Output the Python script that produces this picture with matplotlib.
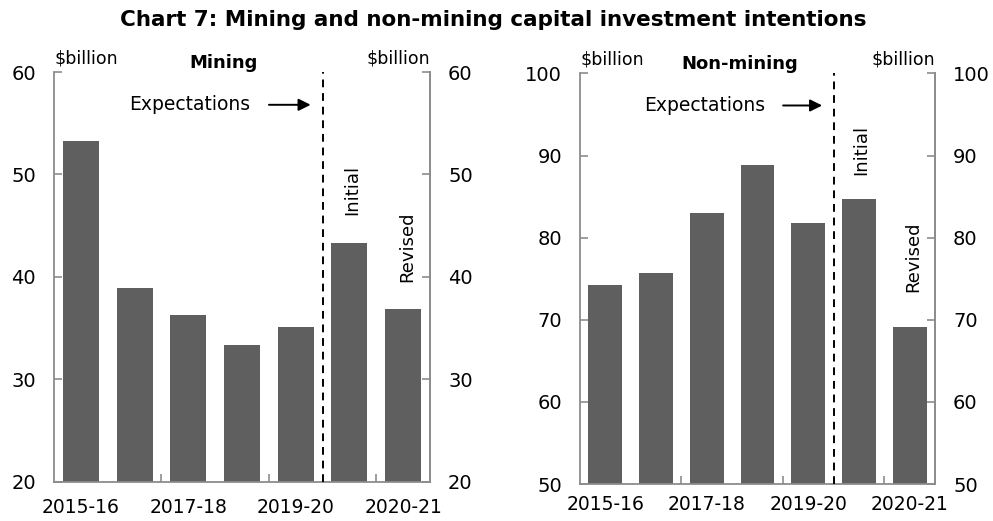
import numpy as np
import matplotlib.pyplot as plt

plt.rcParams['font.family'] = ['DejaVu Sans']

# categories (7 bars: last two are 2020-21 initial and revised)
categories = ['2015-16', '2016-17', '2017-18', '2018-19', '2019-20',
              '2020-21 Initial', '2020-21 Revised']
tick_labels = ['2015-16', '2017-18', '2019-20', '2020-21']
mining = [53.3, 38.9, 36.3, 33.4, 35.15, 43.35, 36.9]
non_mining = [74.2, 75.7, 83.0, 88.8, 81.8, 84.7, 69.1]

bar_color = '#5f5f5f'
spine_color = '#8c8c8c'

fig = plt.figure(figsize=(9.93, 5.21), dpi=100)
fig.text(0.497, 0.962, 'Chart 7: Mining and non-mining capital investment intentions',
         ha='center', va='center', fontsize=15.5, fontweight='bold')


def draw_panel(rect, values, ylim, yticks, title, expect_y, init_y, rev_y, xpad):
    ax = fig.add_axes(rect)
    x = np.arange(len(values))
    ax.bar(x, values, width=0.67, color=bar_color, zorder=2)
    ax.set_xlim(-0.5, len(values) - 0.5)
    ax.set_ylim(*ylim)
    ax.set_yticks(yticks)
    # small tick marks between every second pair of bars, labels under bars
    ax.set_xticks([1.5, 3.5, 5.5], minor=False)
    ax.set_xticklabels([])
    ax.set_xticks([0, 2, 4, 6], minor=True)
    ax.set_xticklabels(tick_labels, minor=True)
    ax.tick_params(axis='x', which='major', direction='in', length=6,
                   color=spine_color, width=1.2)
    ax.tick_params(axis='x', which='minor', length=0, pad=xpad, labelsize=13.5)
    ax.tick_params(axis='y', direction='in', length=6, color=spine_color,
                   width=1.2, pad=13, labelsize=14)
    for s in ax.spines.values():
        s.set_color(spine_color)
        s.set_linewidth(1.3)
    ax.spines['top'].set_visible(False)

    ax2 = ax.twinx()
    ax2.set_ylim(*ylim)
    ax2.set_yticks(yticks)
    ax2.tick_params(axis='y', direction='in', length=6, color=spine_color,
                    width=1.2, pad=13, labelsize=14)
    for s in ax2.spines.values():
        s.set_visible(False)
    ax2.spines['right'].set_visible(True)
    ax2.spines['right'].set_color(spine_color)
    ax2.spines['right'].set_linewidth(1.3)

    ax.axvline(4.5, color='black', linestyle=(0, (4, 3)), linewidth=1.4, zorder=3)

    ax.text(0.0, 1.012, '$billion', transform=ax.transAxes, ha='left',
            va='bottom', fontsize=12.5)
    ax.text(1.0, 1.012, '$billion', transform=ax.transAxes, ha='right',
            va='bottom', fontsize=12.5)
    ax.text(0.45, 1.023, title, transform=ax.transAxes, ha='center',
            va='center', fontsize=13, fontweight='bold')

    ax.annotate('', xy=(4.33, expect_y), xytext=(3.45, expect_y),
                arrowprops=dict(arrowstyle='-|>', color='black', lw=1.4,
                                mutation_scale=18))
    ax.text(3.15, expect_y, 'Expectations', ha='right', va='center', fontsize=13.5)
    ax.text(5.05, init_y, 'Initial', rotation=90, ha='center', va='bottom', fontsize=13)
    ax.text(6.07, rev_y, 'Revised', rotation=90, ha='center', va='bottom', fontsize=13)
    return ax


draw_panel([0.0544, 0.0749, 0.3786, 0.7869], mining, (20, 60),
           [20, 30, 40, 50, 60], 'Mining', 56.8, 46.0, 39.5, 11.5)
draw_panel([0.5841, 0.071, 0.3575, 0.788], non_mining, (50, 100),
           [50, 60, 70, 80, 90, 100], 'Non-mining', 96.1, 87.6, 73.4, 8)

fig.savefig('out.png', dpi=100)
